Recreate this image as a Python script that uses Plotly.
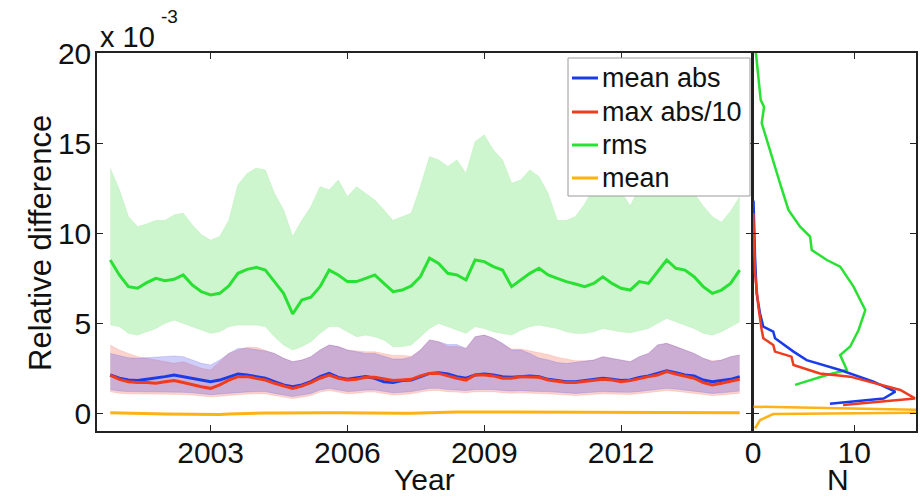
import plotly.graph_objects as go

# ---- time grid (decimal years) ----
years = [2000.8, 2001.0, 2001.2, 2001.4, 2001.6, 2001.8, 2002.0, 2002.2, 2002.4, 2002.6,
         2002.8, 2003.0, 2003.2, 2003.4, 2003.6, 2003.8, 2004.0, 2004.2, 2004.4, 2004.6,
         2004.8, 2005.0, 2005.2, 2005.4, 2005.6, 2005.8, 2006.0, 2006.2, 2006.4, 2006.6,
         2006.8, 2007.0, 2007.2, 2007.4, 2007.6, 2007.8, 2008.0, 2008.2, 2008.4, 2008.6,
         2008.8, 2009.0, 2009.2, 2009.4, 2009.6, 2009.8, 2010.0, 2010.2, 2010.4, 2010.6,
         2010.8, 2011.0, 2011.2, 2011.4, 2011.6, 2011.8, 2012.0, 2012.2, 2012.4, 2012.6,
         2012.8, 2013.0, 2013.2, 2013.4, 2013.6, 2013.8, 2014.0, 2014.2, 2014.4, 2014.6]

# ---- relative differences (units of 1e-3) ----
rms = [8.5, 7.67, 7.02, 6.93, 7.24, 7.48, 7.35, 7.43, 7.67, 7.11, 6.74, 6.56, 6.65, 7.06, 7.76, 7.98, 8.09,
       7.94, 7.3, 6.65, 5.5, 6.28, 6.43, 7.02, 7.94, 7.67, 7.3, 7.3, 7.48, 7.67, 7.2, 6.74, 6.83, 7.06, 7.57,
       8.6, 8.31, 7.76, 7.67, 7.39, 8.5, 8.41, 8.13, 7.94, 7.02, 7.39, 7.76, 8.04, 7.67, 7.48, 7.3, 7.17,
       7.02, 7.2, 7.57, 7.2, 6.93, 6.83, 7.3, 7.2, 7.85, 8.5, 8.04, 7.94, 7.57, 7.02, 6.65, 6.83, 7.2, 7.94]
rms_hi = [13.6, 12.4, 10.9, 10.35, 10.5, 10.7, 10.7, 11.0, 11.1, 10.44, 9.9, 9.6, 9.8, 10.7, 12.67, 13.3, 13.6,
          13.5, 12.2, 11.28, 9.8, 10.7, 11.46, 12.57, 12.39, 12.94, 12.02, 12.57, 12.2, 11.83, 11.28, 10.7, 10.9, 11.1, 12.57,
          14.24, 14.06, 13.69, 14.06, 13.31, 15.07, 15.44, 14.61, 14.06, 12.76, 12.94, 13.5, 13.13, 12.2, 10.7, 10.7, 10.9,
          11.6, 12.5, 12.8, 12.5, 12.3, 11.5, 12.5, 12.8, 13.0, 13.2, 12.8, 12.5, 12.2, 11.5, 10.9, 10.6, 11.2, 12.0]
rms_lo = [4.9, 4.8, 4.43, 4.33, 4.52, 4.7, 4.98, 5.17, 4.98, 4.8, 4.6, 4.43, 4.52, 4.8, 4.89, 4.89, 4.89,
          4.8, 4.24, 3.78, 3.5, 3.69, 3.96, 4.43, 4.8, 4.8, 4.52, 4.24, 4.33, 4.24, 4.06, 3.69, 3.69, 3.78, 4.24,
          4.7, 4.98, 4.8, 4.6, 4.43, 4.8, 4.7, 4.52, 4.43, 4.33, 4.6, 4.8, 4.89, 4.8, 4.7, 4.52, 4.43,
          4.43, 4.52, 4.7, 4.6, 4.52, 4.46, 4.6, 4.7, 4.98, 5.26, 5.07, 4.89, 4.7, 4.43, 4.33, 4.52, 4.8, 5.07]

mean_abs = [2.11, 1.93, 1.83, 1.8, 1.87, 1.93, 2.02, 2.11, 2.02, 1.93, 1.83, 1.74, 1.83, 2.02, 2.17, 2.11, 2.02,
            1.93, 1.74, 1.56, 1.46, 1.56, 1.74, 2.02, 2.2, 1.98, 1.87, 1.93, 2.02, 1.93, 1.74, 1.69, 1.8, 1.83, 2.02,
            2.2, 2.24, 2.17, 2.02, 1.93, 2.11, 2.17, 2.11, 2.02, 1.98, 2.02, 2.06, 2.02, 1.87, 1.8, 1.74, 1.74,
            1.8, 1.83, 1.93, 1.87, 1.8, 1.83, 1.98, 2.06, 2.2, 2.35, 2.24, 2.11, 2.06, 1.83, 1.74, 1.8, 1.87, 2.02]
mean_abs_hi = [3.31, 3.17, 3.07, 3.04, 3.07, 3.09, 3.13, 3.17, 3.13, 2.94, 2.76, 2.67, 2.94, 3.31, 3.59, 3.59, 3.5,
               3.45, 3.31, 3.04, 2.85, 2.94, 3.13, 3.5, 3.78, 3.69, 3.5, 3.41, 3.31, 3.31, 3.15, 3.0, 3.0, 3.1, 3.5,
               4.06, 3.96, 3.8, 3.8, 3.59, 4.24, 4.33, 4.15, 3.87, 3.5, 3.5, 3.31, 3.05, 2.95, 2.8, 2.75, 2.8,
               2.85, 2.94, 3.13, 3.04, 2.94, 2.85, 3.13, 3.31, 3.78, 3.87, 3.69, 3.5, 3.31, 3.04, 2.85, 2.94, 3.13, 3.22]
mean_abs_lo = [1.3, 1.22, 1.19, 1.19, 1.19, 1.19, 1.19, 1.19, 1.15, 1.12, 1.09, 1.02, 1.05, 1.1, 1.15, 1.17, 1.19,
               1.19, 1.09, 1.0, 0.91, 1.0, 1.09, 1.28, 1.37, 1.28, 1.19, 1.22, 1.28, 1.28, 1.19, 1.12, 1.15, 1.19, 1.28,
               1.37, 1.37, 1.3, 1.28, 1.25, 1.3, 1.32, 1.3, 1.25, 1.22, 1.24, 1.24, 1.2, 1.19, 1.15, 1.12, 1.09,
               1.12, 1.15, 1.19, 1.17, 1.15, 1.15, 1.2, 1.25, 1.3, 1.37, 1.33, 1.27, 1.22, 1.12, 1.09, 1.12, 1.17, 1.22]

max_abs = [2.11, 1.87, 1.74, 1.69, 1.69, 1.65, 1.74, 1.8, 1.69, 1.56, 1.46, 1.37, 1.56, 1.83, 2.02, 2.02, 1.93,
           1.83, 1.65, 1.5, 1.37, 1.5, 1.69, 1.93, 2.11, 1.93, 1.83, 1.87, 1.98, 1.98, 1.87, 1.8, 1.83, 1.87, 2.06,
           2.2, 2.2, 2.06, 1.93, 1.83, 2.11, 2.11, 2.06, 1.93, 1.93, 2.02, 2.02, 1.98, 1.83, 1.74, 1.69, 1.69,
           1.74, 1.8, 1.87, 1.83, 1.74, 1.8, 1.93, 2.02, 2.11, 2.3, 2.17, 2.06, 1.93, 1.69, 1.56, 1.65, 1.74, 1.87]
max_abs_hi = [3.78, 3.5, 3.31, 3.13, 3.04, 2.94, 2.85, 2.76, 2.85, 2.67, 2.48, 2.39, 2.85, 3.31, 3.5, 3.65, 3.65,
              3.5, 3.31, 3.04, 2.85, 2.94, 3.13, 3.5, 3.78, 3.69, 3.5, 3.45, 3.4, 3.4, 3.3, 3.2, 3.2, 3.15, 3.5,
              4.06, 3.96, 3.69, 3.69, 3.59, 4.24, 4.33, 4.15, 3.87, 3.55, 3.55, 3.45, 3.35, 3.25, 3.1, 3.0, 2.9,
              2.9, 2.94, 3.13, 3.04, 2.94, 2.85, 3.13, 3.31, 3.78, 3.87, 3.69, 3.5, 3.31, 3.04, 2.9, 2.94, 3.13, 3.22]
max_abs_lo = [1.18, 1.1, 1.07, 1.07, 1.07, 1.07, 1.07, 1.07, 1.03, 1.0, 0.97, 0.9, 0.93, 0.98, 1.03, 1.05, 1.07,
              1.07, 0.97, 0.88, 0.8, 0.88, 0.97, 1.16, 1.25, 1.16, 1.07, 1.1, 1.16, 1.16, 1.07, 1.0, 1.03, 1.07, 1.16,
              1.25, 1.25, 1.18, 1.16, 1.13, 1.18, 1.2, 1.18, 1.13, 1.1, 1.12, 1.12, 1.08, 1.07, 1.03, 1.0, 0.97,
              1.0, 1.03, 1.07, 1.05, 1.03, 1.03, 1.08, 1.13, 1.18, 1.25, 1.21, 1.15, 1.1, 1.0, 0.97, 1.0, 1.05, 1.1]

mean = [0.02, 0.0, -0.02, -0.03, -0.03, -0.04, -0.05, -0.06, -0.07, -0.07, -0.08, -0.1, -0.08, -0.05, -0.03, -0.02, -0.01,
        0.0, 0.0, 0.01, 0.01, 0.0, 0.0, 0.01, 0.02, 0.02, 0.01, 0.0, -0.01, -0.02, -0.03, -0.03, -0.02, -0.01, 0.01,
        0.03, 0.04, 0.05, 0.05, 0.06, 0.06, 0.05, 0.05, 0.04, 0.04, 0.03, 0.03, 0.03, 0.02, 0.02, 0.02, 0.03,
        0.03, 0.03, 0.03, 0.02, 0.02, 0.03, 0.04, 0.05, 0.05, 0.06, 0.06, 0.05, 0.04, 0.03, 0.02, 0.02, 0.02, 0.02]

# ---- distributions (value bin, count N) ----
rms_bins = [1.56, 2.11, 2.39, 3.22, 3.69, 4.61, 5.72, 7.02, 8.13, 8.5, 9.06, 9.8, 10.35,
            11.28, 12.76, 14.06, 15.2, 16.1, 17.0, 17.4, 18.7, 20.5]
rms_counts = [4.16, 7.29, 9.27, 8.61, 9.6, 10.43, 11.09, 9.93, 8.61, 7.29, 5.8, 5.64, 4.65,
              3.5, 2.67, 2.0, 1.35, 0.86, 1.09, 0.76, 0.53, 0.2]
mean_abs_bins = [0.52, 0.8, 1.19, 1.74, 2.39, 2.94, 3.41, 4.15, 4.52, 4.8, 5.54, 6.65, 8.69, 11.8]
mean_abs_counts = [7.6, 12.9, 14.06, 11.9, 8.6, 5.3, 4.0, 2.18, 2.0, 1.02, 0.69, 0.36, 0.2, 0.05]
max_abs_bins = [0.44, 0.81, 1.28, 2.02, 2.2, 2.67, 3.13, 3.41, 3.78, 4.15, 4.61, 5.9, 7.76, 9.6, 11.1]
max_abs_counts = [8.9, 16.0, 14.55, 9.6, 6.6, 4.0, 3.8, 2.17, 2.0, 1.02, 0.86, 0.53, 0.2, 0.1, 0.03]
mean_bins = [0.35, 0.17, 0.02, -0.06, -0.39, -0.85]
mean_counts = [0.05, 16.5, 16.5, 2.0, 0.7, 0.2]

legend_labels = ["mean abs", "max abs/10", "rms", "mean"]

# ---- styling ----
FONT = "Liberation Sans, Arial, Helvetica, sans-serif"
C_BLUE = "rgb(25,60,235)"
C_RED = "rgb(240,60,30)"
C_GREEN = "rgb(40,225,50)"
C_ORANGE = "rgb(255,178,20)"
W, H = 922, 498

fig = go.Figure()


def band(lo, hi, fill, edge):
    fig.add_trace(go.Scatter(x=years, y=lo, mode="lines", line=dict(width=0.6, color=edge),
                             showlegend=False, hoverinfo="skip"))
    fig.add_trace(go.Scatter(x=years, y=hi, mode="lines", line=dict(width=0.6, color=edge),
                             fill="tonexty", fillcolor=fill, showlegend=False, hoverinfo="skip"))


band(rms_lo, rms_hi, "rgb(206,246,206)", "rgb(190,240,190)")
band(max_abs_lo, max_abs_hi, "rgba(245,95,75,0.27)", "rgba(245,95,75,0.3)")
band(mean_abs_lo, mean_abs_hi, "rgba(60,60,230,0.25)", "rgba(60,60,230,0.3)")

series = [(mean_abs, C_BLUE), (max_abs, C_RED), (rms, C_GREEN), (mean, C_ORANGE)]
for (vals, col), name in zip(series, legend_labels):
    fig.add_trace(go.Scatter(x=years, y=vals, mode="lines", name=name,
                             line=dict(color=col, width=3), showlegend=False))

# side panel: distributions of each statistic
for b, c, col in [(rms_bins, rms_counts, C_GREEN), (mean_abs_bins, mean_abs_counts, C_BLUE),
                  (max_abs_bins, max_abs_counts, C_RED), (mean_bins, mean_counts, C_ORANGE)]:
    fig.add_trace(go.Scatter(x=c, y=b, mode="lines", line=dict(color=col, width=2.5),
                             xaxis="x2", yaxis="y2", showlegend=False, hoverinfo="skip"))

x0, x1, x2a, x2b = 97 / W, 752 / W, 753 / W, 916 / W
y0, y1 = 1 - 431 / H, 1 - 53 / H

axis_style = dict(showline=True, linecolor="#222", linewidth=1.5, mirror="ticks",
                  ticks="inside", ticklen=6, tickwidth=1.2, tickcolor="#222",
                  showgrid=False, zeroline=False, automargin=False,
                  tickfont=dict(family=FONT, size=30, color="#111"))
no_font = {k: v for k, v in axis_style.items() if k != "tickfont"}


def px_x(p):
    return p / W


def px_y(p):
    return 1 - p / H


# legend box drawn in pixel-aligned paper coordinates
shapes = [dict(type="rect", xref="paper", yref="paper", layer="above",
               x0=px_x(568), x1=px_x(750), y0=px_y(196), y1=px_y(58),
               fillcolor="white", line=dict(color="#9a9a9a", width=1))]
annotations = []
row_y = [78, 112, 145, 178]
for (vals, col), name, ry in zip(series, legend_labels, row_y):
    shapes.append(dict(type="line", xref="paper", yref="paper", layer="above",
                       x0=px_x(572), x1=px_x(598), y0=px_y(ry), y1=px_y(ry),
                       line=dict(color=col, width=3)))
    annotations.append(dict(text=name, x=px_x(600), y=px_y(ry), xref="paper", yref="paper",
                            xanchor="left", yanchor="middle", showarrow=False,
                            font=dict(family=FONT, size=27, color="#111")))

annotations += [
    dict(text="Relative difference", x=px_x(40), y=px_y(243), xref="paper", yref="paper",
         xanchor="center", yanchor="middle", textangle=-90, showarrow=False,
         font=dict(family=FONT, size=31, color="#111")),
    dict(text="Year", x=px_x(424), y=px_y(497), xref="paper", yref="paper",
         xanchor="center", yanchor="bottom", showarrow=False, borderpad=0,
         font=dict(family=FONT, size=30, color="#111")),
    dict(text="N", x=px_x(838), y=px_y(497), xref="paper", yref="paper",
         xanchor="center", yanchor="bottom", showarrow=False, borderpad=0,
         font=dict(family=FONT, size=30, color="#111")),
    dict(text="x 10", x=px_x(98), y=px_y(55), xref="paper", yref="paper",
         xanchor="left", yanchor="bottom", showarrow=False,
         font=dict(family=FONT, size=29, color="#111")),
    dict(text="-3", x=px_x(159), y=px_y(17), xref="paper", yref="paper",
         xanchor="left", yanchor="middle", showarrow=False,
         font=dict(family=FONT, size=19, color="#111")),
]

fig.update_layout(
    width=W, height=H,
    margin=dict(l=0, r=0, t=0, b=0),
    paper_bgcolor="white", plot_bgcolor="white",
    font=dict(family=FONT, color="#111"),
    showlegend=False,
    hovermode=False,
    xaxis=dict(domain=[x0, x1], range=[2000.51, 2014.87], tickvals=[2003, 2006, 2009, 2012],
               anchor="y", ticklabelstandoff=-6, **axis_style),
    yaxis=dict(domain=[y0, y1], range=[-1, 20], tickvals=[0, 5, 10, 15, 20],
               anchor="x", ticklabelstandoff=-2, **axis_style),
    xaxis2=dict(domain=[x2a, x2b], range=[0, 16.1], tickvals=[0, 10], anchor="y2",
                ticklabelstandoff=-6, **axis_style),
    yaxis2=dict(domain=[y0, y1], range=[-1, 20], tickvals=[0, 5, 10, 15, 20], anchor="x2",
                showticklabels=False, **no_font),
    shapes=shapes,
    annotations=annotations,
)

fig.write_html("out.html")
